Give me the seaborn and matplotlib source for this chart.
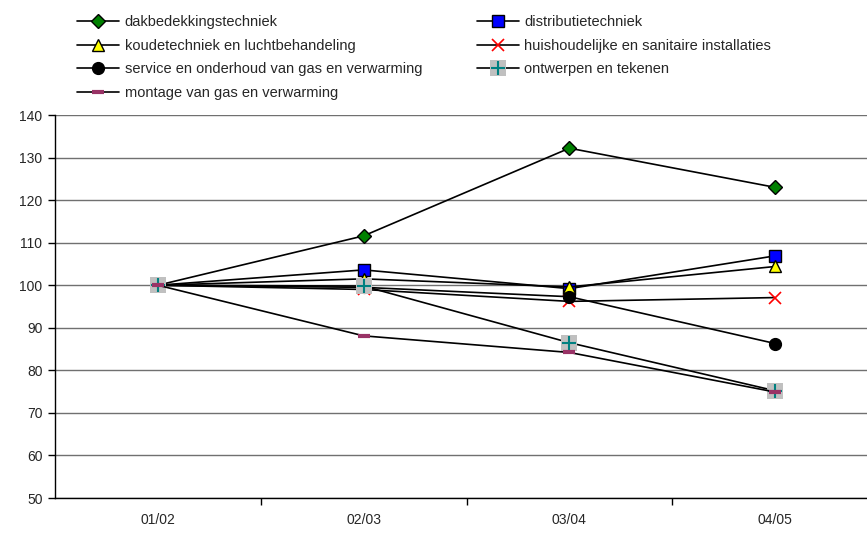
import matplotlib
matplotlib.use("Agg")
import matplotlib.pyplot as plt
import seaborn as sns
import pandas as pd
from matplotlib.legend_handler import HandlerTuple

years = ["01/02", "02/03", "03/04", "04/05"]
dakbedekking = [100, 111.6, 132.2, 123.0]
distributie = [100, 103.6, 99.2, 106.9]
koude = [100, 101.5, 99.6, 104.4]
huishoud = [100, 99.0, 96.2, 97.1]
service = [100, 99.5, 97.3, 86.3]
ontwerpen = [100, 99.8, 86.5, 75.2]
montage = [100, 88.1, 84.2, 74.9]

names = ["dakbedekkingstechniek", "distributietechniek",
         "koudetechniek en luchtbehandeling", "huishoudelijke en sanitaire installaties",
         "service en onderhoud van gas en verwarming", "ontwerpen en tekenen",
         "montage van gas en verwarming"]
series = [dakbedekking, distributie, koude, huishoud, service, ontwerpen, montage]

sns.set_theme(style="white")
plt.rcParams["font.family"] = ["Liberation Sans", "DejaVu Sans"]

fig = plt.figure(figsize=(8.67, 5.33), dpi=100)
ax = fig.add_axes([55/867, 35/533, 823/867, 383/533])

x = list(range(len(years)))
styles = [
    dict(marker="D", markerfacecolor="#008000", markeredgecolor="black", markersize=7, markeredgewidth=1),
    dict(marker="s", markerfacecolor="#0000FF", markeredgecolor="black", markersize=8.5, markeredgewidth=1),
    dict(marker="^", markerfacecolor="#FFFF00", markeredgecolor="black", markersize=9, markeredgewidth=1),
    dict(marker="x", markerfacecolor="none", markeredgecolor="#FF0000", markersize=9, markeredgewidth=1.2),
    dict(marker="o", markerfacecolor="black", markeredgecolor="black", markersize=8.5, markeredgewidth=1),
    dict(marker="s", markerfacecolor="#C0C0C0", markeredgecolor="#C0C0C0", markersize=12, markeredgewidth=0),
    dict(marker="_", markerfacecolor="#993366", markeredgecolor="#993366", markersize=9, markeredgewidth=3),
]

handles = []
for i, (name, vals, st) in enumerate(zip(names, series, styles)):
    df = pd.DataFrame({"x": x, "y": vals})
    sns.lineplot(data=df, x="x", y="y", ax=ax, color="black", linewidth=1.2,
                 zorder=3 + i, legend=False, **st)
    line = ax.lines[-1]
    if name == "ontwerpen en tekenen":
        sns.lineplot(data=df, x="x", y="y", ax=ax, color="black", linewidth=0,
                     marker="+", markersize=10, markeredgewidth=1.5,
                     markeredgecolor="#008080", zorder=3 + i, legend=False)
        plus = ax.lines[-1]
        handles.append((line, plus))
    else:
        handles.append(line)

ax.set_xlim(-0.5, 3.5)
ax.set_ylim(50, 140)
ax.set_yticks(range(50, 141, 10))
ax.set_xticks(x)
ax.set_xticklabels(years)
ax.set_xticks([0.5, 1.5, 2.5], minor=True)
ax.set_xlabel("")
ax.set_ylabel("")
ax.yaxis.grid(True, color="#707070", linewidth=1)
ax.set_axisbelow(True)
for s in ["top", "right"]:
    ax.spines[s].set_visible(False)
for s in ["left", "bottom"]:
    ax.spines[s].set_color("black")
    ax.spines[s].set_linewidth(1)
ax.tick_params(axis="y", which="major", left=True, length=5, width=1, color="black",
               labelsize=10, pad=4)
ax.tick_params(axis="x", which="major", bottom=False, labelsize=10, pad=5)
ax.tick_params(axis="x", which="minor", bottom=True, length=5, width=1, color="black")

order = [0, 2, 4, 6, 1, 3, 5]
fig.legend([handles[k] for k in order], [names[k] for k in order],
           loc="upper left", bbox_to_anchor=(64/867, 1 - 2/533), ncol=2,
           frameon=False, fontsize=10.5, handlelength=2.9, handletextpad=0.35,
           columnspacing=3.75, labelspacing=0.66,
           handler_map={tuple: HandlerTuple(ndivide=1)})

fig.savefig("out.png", dpi=100)
